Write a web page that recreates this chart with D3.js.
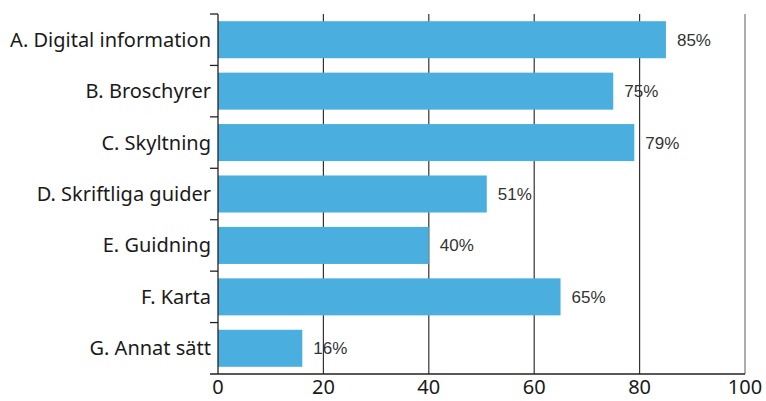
<!DOCTYPE html>
<html lang="sv">
	<head>
		<meta charset="UTF-8" />
		<title>Informationskanaler</title>
		<script src="https://d3js.org/d3.v7.min.js"></script>
		<style>
			body {
				margin: 0;
				background: #fff;
			}
			.bar {
				fill: #4aafdf;
			}
			.cat {
				font-family: "Noto Sans", sans-serif;
				font-size: 20px;
				fill: #1a1a1a;
			}
			.val {
				font-family: "Liberation Sans", Arial, sans-serif;
				font-size: 17px;
				fill: #333;
			}
			.xt {
				font-family: "Noto Sans", sans-serif;
				font-size: 20px;
				fill: #1a1a1a;
			}
		</style>
	</head>
	<body>
		<svg width="766" height="401"></svg>
		<script>
			// Data
			const categories = [
				"A. Digital information",
				"B. Broschyrer",
				"C. Skyltning",
				"D. Skriftliga guider",
				"E. Guidning",
				"F. Karta",
				"G. Annat sätt",
			];
			const values = [85, 75, 79, 51, 40, 65, 16];
			const xTicks = [0, 20, 40, 60, 80, 100];

			const plotLeft = 218,
				plotRight = 745,
				plotTop = 14,
				plotBottom = 374;

			const x = d3.scaleLinear().domain([0, 100]).range([plotLeft, plotRight]);
			const y = d3
				.scaleBand()
				.domain(categories)
				.range([plotTop, plotBottom])
				.paddingInner(0.28)
				.paddingOuter(0.14);

			const svg = d3.select("svg");

			// vertical grid lines (behind the bars)
			svg
				.selectAll(".grid")
				.data(xTicks.slice(1))
				.enter()
				.append("line")
				.attr("x1", (d) => x(d))
				.attr("x2", (d) => x(d))
				.attr("y1", plotTop)
				.attr("y2", plotBottom)
				.attr("stroke", (d) => (d === 100 ? "#777" : "#333"))
				.attr("stroke-width", 1.2);

			// bars
			svg
				.selectAll(".bar")
				.data(values)
				.enter()
				.append("rect")
				.classed("bar", true)
				.attr("x", x(0))
				.attr("y", (d, i) => y(categories[i]))
				.attr("width", (d) => x(d) - x(0))
				.attr("height", y.bandwidth());

			// value labels
			svg
				.selectAll(".val")
				.data(values)
				.enter()
				.append("text")
				.classed("val", true)
				.attr("x", (d) => x(d) + 11)
				.attr("y", (d, i) => y(categories[i]) + y.bandwidth() / 2)
				.attr("dy", "0.35em")
				.text((d) => d + "%");

			// y axis: line with ticks on band boundaries
			svg
				.append("line")
				.attr("x1", plotLeft)
				.attr("x2", plotLeft)
				.attr("y1", plotTop)
				.attr("y2", plotBottom)
				.attr("stroke", "#222")
				.attr("stroke-width", 1.3);
			const bounds = categories.map((c) => y(c) - (y.step() * y.paddingInner()) / 2);
			svg
				.selectAll(".ytick")
				.data(bounds)
				.enter()
				.append("line")
				.attr("x1", plotLeft - 8)
				.attr("x2", plotLeft)
				.attr("y1", (d) => d)
				.attr("y2", (d) => d)
				.attr("stroke", "#222")
				.attr("stroke-width", 1.3);

			svg
				.selectAll(".cat")
				.data(categories)
				.enter()
				.append("text")
				.classed("cat", true)
				.attr("x", plotLeft - 7)
				.attr("y", (d) => y(d) + y.bandwidth() / 2)
				.attr("dy", "0.35em")
				.attr("text-anchor", "end")
				.text((d) => d);

			// x axis
			svg
				.append("line")
				.attr("x1", plotLeft - 8)
				.attr("x2", plotRight)
				.attr("y1", plotBottom)
				.attr("y2", plotBottom)
				.attr("stroke", "#222")
				.attr("stroke-width", 1.3);
			svg
				.selectAll(".xt")
				.data(xTicks)
				.enter()
				.append("text")
				.classed("xt", true)
				.attr("x", (d) => x(d))
				.attr("y", 394)
				.attr("text-anchor", "middle")
				.text((d) => d);
		</script>
	</body>
</html>
